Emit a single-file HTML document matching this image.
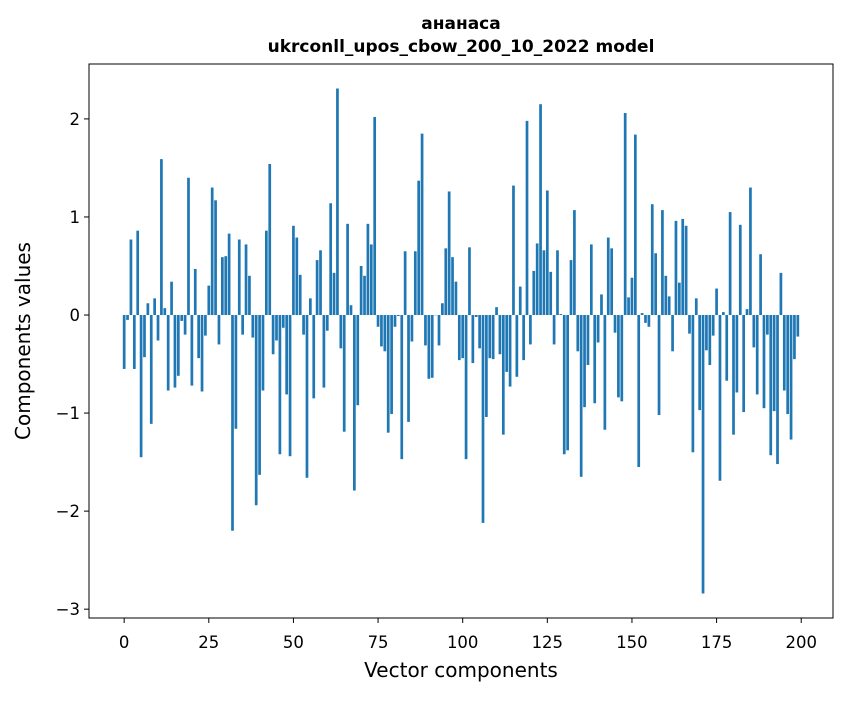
<!DOCTYPE html>
<html><head><meta charset="utf-8"><style>
body{margin:0;background:#fff;}
svg text{font-family:"DejaVu Sans","Liberation Sans",sans-serif;fill:#000;}
</style></head><body>
<svg id="chart" width="847" height="696" xmlns="http://www.w3.org/2000/svg">
<rect width="847" height="696" fill="#fff"/>
<text x="461" y="29" font-size="17" font-weight="bold" text-anchor="middle">ананаса</text>
<text x="461" y="52" font-size="17" font-weight="bold" text-anchor="middle">ukrconll_upos_cbow_200_10_2022 model</text>
<g id="bars"></g>
<g id="axes"></g>
<text x="461" y="677" font-size="20" text-anchor="middle">Vector components</text>
<text x="0" y="0" font-size="20" text-anchor="middle" transform="translate(30,341) rotate(-90)">Components values</text>
</svg>
<script>
const values = [-0.55,-0.05,0.77,-0.55,0.86,-1.45,-0.43,0.12,-1.11,0.17,
-0.26,1.59,0.07,-0.77,0.34,-0.74,-0.62,-0.06,-0.2,1.40,
-0.72,0.47,-0.44,-0.78,-0.21,0.30,1.30,1.17,-0.30,0.59,
0.60,0.83,-2.20,-1.16,0.77,-0.20,0.72,0.40,-0.23,-1.94,
-1.63,-0.77,0.86,1.54,-0.40,-0.26,-1.42,-0.13,-0.81,-1.44,
0.91,0.79,0.41,-0.20,-1.66,0.17,-0.85,0.56,0.66,-0.74,
-0.16,1.14,0.43,2.31,-0.34,-1.19,0.93,0.10,-1.79,-0.92,
0.50,0.40,0.93,0.72,2.02,-0.12,-0.32,-0.37,-1.20,-1.01,
-0.12,-0.01,-1.47,0.65,-1.09,-0.27,0.65,1.37,1.85,-0.31,
-0.65,-0.64,0.0,-0.31,0.12,0.68,1.26,0.59,0.34,-0.46,
-0.44,-1.47,0.69,-0.49,-0.02,-0.34,-2.12,-1.04,-0.44,-0.45,
0.08,-0.40,-1.22,-0.58,-0.73,1.32,-0.63,0.29,-0.46,1.98,
-0.30,0.45,0.73,2.15,0.66,1.27,0.44,-0.30,0.66,0.01,
-1.42,-1.38,0.56,1.07,-0.37,-1.65,-0.94,-0.51,0.72,-0.90,
-0.28,0.21,-1.17,0.79,0.68,-0.18,-0.84,-0.88,2.06,0.18,
0.38,1.84,-1.55,0.02,-0.08,-0.12,1.13,0.63,-1.02,1.07,
0.40,0.19,-0.37,0.96,0.33,0.98,0.91,-0.19,-1.40,0.17,
-0.97,-2.84,-0.36,-0.51,-0.21,0.27,-1.69,0.03,-0.67,1.05,
-1.22,-0.79,0.92,-0.99,0.06,1.30,-0.33,-0.81,0.62,-0.95,
-0.20,-1.43,-0.98,-1.52,0.43,-0.77,-1.01,-1.27,-0.45,-0.22];
const xTicks = [0,25,50,75,100,125,150,175,200];
const yTicks = [-3,-2,-1,0,1,2];
const yTickLabels = ["\u22123","\u22122","\u22121","0","1","2"];

const L=89,R=833,T=64,B=618;
const xMin=-10.39,xMax=209.39,yMin=-3.09,yMax=2.56;
const xs=v=>L+(v-xMin)/(xMax-xMin)*(R-L);
const ys=v=>B-(v-yMin)/(yMax-yMin)*(B-T);
const NS="http://www.w3.org/2000/svg";
const bars=document.getElementById('bars');
values.forEach((v,i)=>{
  const r=document.createElementNS(NS,'rect');
  const x0=xs(i-0.4),x1=xs(i+0.4);
  const y0=ys(Math.max(v,0)),y1=ys(Math.min(v,0));
  r.setAttribute('x',x0);r.setAttribute('width',x1-x0);
  r.setAttribute('y',y0);r.setAttribute('height',Math.max(y1-y0,0.3));
  r.setAttribute('fill','#1f77b4');
  
  
  bars.appendChild(r);
});
const ax=document.getElementById('axes');
const frame=document.createElementNS(NS,'rect');
frame.setAttribute('x',L);frame.setAttribute('y',T);frame.setAttribute('width',R-L);frame.setAttribute('height',B-T);
frame.setAttribute('fill','none');frame.setAttribute('stroke','#000');frame.setAttribute('stroke-width','1');


ax.appendChild(frame);
xTicks.forEach(t=>{
  const x=xs(t);
  const l=document.createElementNS(NS,'line');
  l.setAttribute('x1',x);l.setAttribute('x2',x);l.setAttribute('y1',B);l.setAttribute('y2',B+5);l.setAttribute('stroke','#000');
  
  
  ax.appendChild(l);
  const tx=document.createElementNS(NS,'text');
  tx.setAttribute('x',x);tx.setAttribute('y',B+30);tx.setAttribute('font-size','16.5');tx.setAttribute('text-anchor','middle');
  tx.textContent=t;
  
  
  ax.appendChild(tx);
});
yTicks.forEach((t,k)=>{
  const y=ys(t);
  const l=document.createElementNS(NS,'line');
  l.setAttribute('x1',L-5);l.setAttribute('x2',L);l.setAttribute('y1',y);l.setAttribute('y2',y);l.setAttribute('stroke','#000');
  
  
  ax.appendChild(l);
  const tx=document.createElementNS(NS,'text');
  tx.setAttribute('x',L-9);tx.setAttribute('y',y+6);tx.setAttribute('font-size','16.5');tx.setAttribute('text-anchor','end');
  tx.textContent=yTickLabels[k];
  
  
  ax.appendChild(tx);
});
</script>
</body></html>
